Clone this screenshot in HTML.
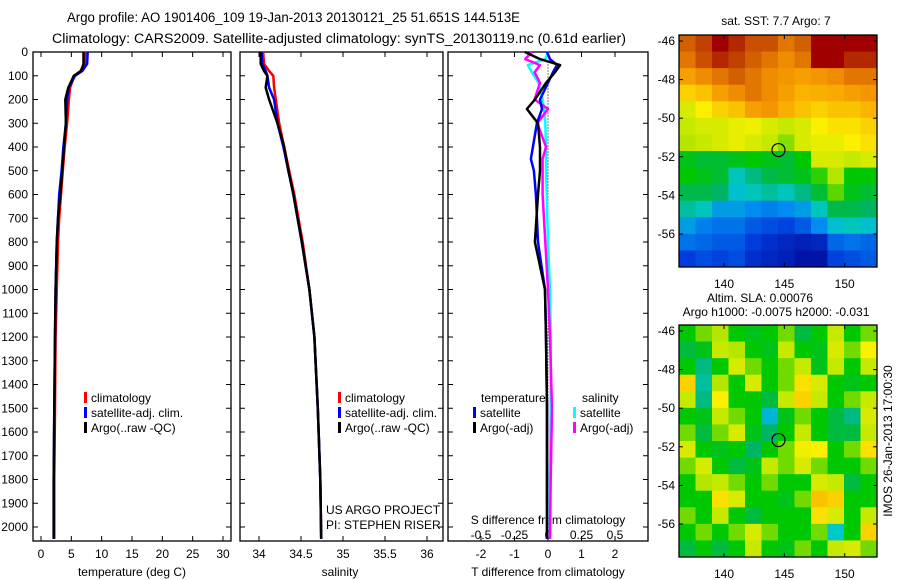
<!DOCTYPE html>
<html><head><meta charset="utf-8">
<style>
html,body{margin:0;padding:0;background:#fff;}
svg{display:block;font-family:"Liberation Sans",sans-serif;font-size:12px;}
</style></head>
<body>
<svg id="c" width="900" height="580" viewBox="0 0 900 580" xmlns="http://www.w3.org/2000/svg">
<text x="67" y="22" textLength="453" lengthAdjust="spacingAndGlyphs" style="font-size:13.5px">Argo profile: AO 1901406_109 19-Jan-2013 20130121_25 51.651S 144.513E</text>
<text x="52" y="43" textLength="574" lengthAdjust="spacingAndGlyphs" style="font-size:13.5px">Climatology: CARS2009. Satellite-adjusted climatology: synTS_20130119.nc (0.61d earlier)</text>
</svg>
<script>
// ---------- data ----------
const depths = [0,50,80,100,150,200,300,400,500,600,700,800,1000,1200,1500,1800,2050];
const tempClim = [7.3,7.2,6.5,5.5,4.8,4.6,4.3,3.9,3.6,3.3,3.0,2.8,2.6,2.4,2.3,2.2,2.2];
const tempSat  = [7.7,7.6,6.8,5.6,4.6,4.3,4.1,3.7,3.4,3.0,2.8,2.6,2.4,2.3,2.2,2.1,2.1];
const tempArgo = [7.0,7.0,6.6,5.4,4.5,4.0,4.1,3.8,3.5,3.2,2.8,2.6,2.4,2.3,2.2,2.1,2.1];
const salClim = [34.05,34.06,34.12,34.17,34.18,34.2,34.24,34.3,34.36,34.42,34.47,34.52,34.6,34.66,34.7,34.73,34.74];
const salSat  = [34.03,34.04,34.08,34.1,34.12,34.18,34.22,34.29,34.35,34.41,34.46,34.51,34.6,34.66,34.7,34.73,34.74];
const salArgo = [34.02,34.02,34.06,34.1,34.08,34.12,34.22,34.3,34.35,34.41,34.46,34.51,34.6,34.66,34.7,34.73,34.74];
const diffDepths = [0,30,55,85,130,200,240,300,400,450,500,600,800,1000,1200,1500,1800,2050];
const dTsat  = [-0.03,0.06,0.27,0.15,0,-0.24,-0.18,-0.33,-0.45,-0.51,-0.42,-0.36,-0.3,-0.09,-0.06,-0.03,-0.03,-0.03];
const dTargo = [-0.69,-0.24,0.36,0.21,-0.06,-0.39,-0.63,-0.3,-0.24,-0.24,-0.24,-0.3,-0.39,-0.09,-0.06,-0.03,-0.03,-0.03];
const dSsat  = [0,-0.02,-0.15,-0.12,-0.07,-0.04,-0.03,-0.02,-0.015,-0.015,-0.015,-0.01,0,0.015,0.02,0.02,0.015,0.015];
const dSargo = [-0.12,-0.17,-0.06,-0.1,-0.06,-0.1,0,-0.08,-0.015,-0.04,-0.04,-0.04,-0.02,0,0.015,0.03,0.02,0.015];
const depthTicks = [0,100,200,300,400,500,600,700,800,900,1000,1100,1200,1300,1400,1500,1600,1700,1800,1900,2000];
const tempTicks = [0,5,10,15,20,25,30];
const salTicks = [34,34.5,35,35.5,36];
const tdiffTicks = [-2,-1,0,1,2];
const sdiffTicks = [-0.5,-0.25,0,0.25,0.5];
const sdiffTickLabels = ["-0.5","-0.25","0","0.25","0.5"];
const lonTicks = [140,145,150];
const latTicks = [-46,-48,-50,-52,-54,-56];
const floatLon = 144.513, floatLat = -51.651;
const sstGrid = [
[0.88,0.92,1.0,0.95,0.9,0.9,0.85,0.88,1.0,1.0,1.0,1.0],
[0.85,0.9,0.95,0.92,0.88,0.85,0.82,0.85,1.0,1.0,0.95,0.95],
[0.78,0.82,0.85,0.88,0.85,0.82,0.8,0.78,0.8,0.82,0.85,0.85],
[0.7,0.72,0.78,0.82,0.85,0.82,0.78,0.74,0.75,0.76,0.78,0.8],
[0.62,0.66,0.7,0.72,0.78,0.8,0.75,0.72,0.7,0.72,0.72,0.74],
[0.6,0.62,0.62,0.64,0.65,0.62,0.6,0.62,0.66,0.68,0.68,0.7],
[0.58,0.6,0.62,0.64,0.62,0.6,0.56,0.62,0.64,0.64,0.66,0.68],
[0.48,0.46,0.46,0.48,0.5,0.48,0.46,0.5,0.62,0.62,0.6,0.62],
[0.5,0.48,0.46,0.36,0.4,0.44,0.46,0.48,0.52,0.58,0.5,0.5],
[0.44,0.44,0.42,0.34,0.36,0.38,0.36,0.4,0.46,0.54,0.48,0.46],
[0.38,0.36,0.3,0.3,0.28,0.26,0.28,0.3,0.36,0.44,0.44,0.42],
[0.3,0.26,0.24,0.24,0.2,0.18,0.16,0.2,0.28,0.34,0.36,0.34],
[0.24,0.22,0.2,0.2,0.15,0.12,0.1,0.08,0.1,0.22,0.24,0.22],
[0.15,0.18,0.16,0.18,0.12,0.1,0.08,0.05,0.05,0.16,0.18,0.2]];
const slaGrid = [
[0.5,0.55,0.58,0.5,0.48,0.5,0.55,0.45,0.5,0.6,0.5,0.55],
[0.45,0.48,0.6,0.58,0.5,0.48,0.6,0.5,0.48,0.62,0.55,0.66],
[0.5,0.4,0.5,0.62,0.55,0.5,0.55,0.6,0.48,0.6,0.5,0.6],
[0.7,0.38,0.58,0.5,0.62,0.5,0.55,0.68,0.62,0.5,0.48,0.5],
[0.6,0.4,0.66,0.5,0.5,0.45,0.6,0.7,0.6,0.5,0.55,0.6],
[0.5,0.48,0.6,0.55,0.5,0.33,0.48,0.55,0.5,0.45,0.4,0.62],
[0.55,0.45,0.55,0.62,0.48,0.42,0.5,0.6,0.5,0.45,0.45,0.6],
[0.62,0.5,0.48,0.5,0.42,0.5,0.55,0.65,0.66,0.5,0.55,0.68],
[0.55,0.62,0.5,0.45,0.48,0.6,0.55,0.62,0.55,0.5,0.5,0.55],
[0.5,0.58,0.6,0.55,0.5,0.55,0.5,0.5,0.62,0.6,0.45,0.5],
[0.5,0.5,0.68,0.62,0.5,0.5,0.48,0.55,0.72,0.7,0.5,0.5],
[0.55,0.5,0.6,0.5,0.45,0.5,0.5,0.5,0.68,0.62,0.5,0.6],
[0.5,0.55,0.5,0.55,0.62,0.55,0.5,0.5,0.55,0.35,0.5,0.7],
[0.45,0.5,0.45,0.5,0.6,0.5,0.48,0.55,0.5,0.6,0.62,0.55]];

// ---------- helpers ----------
const svg = document.getElementById('c');
const NS = 'http://www.w3.org/2000/svg';
function mk(tag, attrs, parent){const e=document.createElementNS(NS,tag);for(const k in attrs)e.setAttribute(k,attrs[k]);(parent||svg).appendChild(e);return e;}
function txt(x,y,s,anchor,parent){const t=mk('text',{x:x,y:y,'text-anchor':anchor||'start'},parent);t.textContent=s;return t;}
const PT=52, PB=541;
function yD(d){return PT + d*0.2375;}
function lin(d0,d1,r0,r1){return v=>r0+(v-d0)*(r1-r0)/(d1-d0);}
const xT = lin(0,30,41,223);
const xS = lin(34,36,259,427);
const xTd = lin(0,1,548,581.5);
const xSd = lin(0,1,548,682);

function frame(x0,x1,name){
  const r=mk('rect',{x:x0,y:PT,width:x1-x0,height:PB-PT,fill:'#fff',stroke:'#000','stroke-width':1.3});
  
  
  depthTicks.forEach(d=>{
    const y=yD(d);
    mk('line',{x1:x0,y1:y,x2:x0+5,y2:y,stroke:'#000'});
    mk('line',{x1:x1-5,y1:y,x2:x1,y2:y,stroke:'#000'});
  });
}
function series(xs,ds,fx,color,name,w){
  const pts=xs.map((v,i)=>fx(v).toFixed(1)+','+yD(ds[i]).toFixed(1)).join(' ');
  const p=mk('polyline',{points:pts,fill:'none',stroke:color,'stroke-width':w||2.5,'stroke-linejoin':'round'});
  
  
}
function legend(x,y,color,label,name){
  const g=mk('g',{});
  
  
  mk('rect',{x:x,y:y-10,width:3,height:11,fill:color},g);
  txt(x+7,y,label,'start',g);
}

// ---------- panel 1: temperature ----------
frame(33,231,'temperature-panel');
depthTicks.forEach(d=>{txt(28,yD(d)+4,String(d),'end');});
tempTicks.forEach(v=>{const x=xT(v);mk('line',{x1:x,y1:PB,x2:x,y2:PB-5,stroke:'#000'});mk('line',{x1:x,y1:PT,x2:x,y2:PT+5,stroke:'#000'});txt(x,558,String(v),'middle');});
txt(132,576,'temperature (deg C)','middle');
series(tempClim,depths,xT,'#f00','temp-climatology-line');
series(tempSat,depths,xT,'#00f','temp-satellite-line');
series(tempArgo,depths,xT,'#000','temp-argo-line');
legend(84,402,'#f00','climatology','legend-climatology');
legend(84,417,'#00f','satellite-adj. clim.','legend-satellite');
legend(84,432,'#000','Argo(..raw -QC)','legend-argo');

// ---------- panel 2: salinity ----------
frame(240,443,'salinity-panel');
salTicks.forEach(v=>{const x=xS(v);mk('line',{x1:x,y1:PB,x2:x,y2:PB-5,stroke:'#000'});mk('line',{x1:x,y1:PT,x2:x,y2:PT+5,stroke:'#000'});txt(x,558,String(v),'middle');});
txt(340,576,'salinity','middle');
series(salClim,depths,xS,'#f00','sal-climatology-line');
series(salSat,depths,xS,'#00f','sal-satellite-line');
series(salArgo,depths,xS,'#000','sal-argo-line');
legend(338,402,'#f00','climatology','legend-sal-climatology');
legend(338,417,'#00f','satellite-adj. clim.','legend-sal-satellite');
legend(338,432,'#000','Argo(..raw -QC)','legend-sal-argo');
txt(326,514,'US ARGO PROJECT');
txt(326,529,'PI: STEPHEN RISER');

// ---------- panel 3: differences ----------
frame(448,648,'difference-panel');
mk('line',{x1:xTd(0),y1:yD(40),x2:xTd(0),y2:PB,stroke:'#000','stroke-dasharray':'1,2'});
tdiffTicks.forEach(v=>{const x=xTd(v);mk('line',{x1:x,y1:PB,x2:x,y2:PB-5,stroke:'#000'});mk('line',{x1:x,y1:PT,x2:x,y2:PT+5,stroke:'#000'});txt(x,558,String(v),'middle');});
sdiffTicks.forEach((v,i)=>{txt(xSd(v),539,sdiffTickLabels[i],'middle');});
txt(548,524,'S difference from climatology','middle');
txt(548,576,'T difference from climatology','middle');
series(dSsat,diffDepths,xSd,'#0ff','sdiff-satellite-line');
series(dSargo,diffDepths,xSd,'#f0f','sdiff-argo-line');
series(dTsat,diffDepths,xTd,'#00f','tdiff-satellite-line');
series(dTargo,diffDepths,xTd,'#000','tdiff-argo-line');
txt(481,402,'temperature');
txt(582,402,'salinity');
legend(473,417,'#00f','satellite','legend-tdiff-satellite');
legend(473,432,'#000','Argo(-adj)','legend-tdiff-argo');
legend(573,417,'#0ff','satellite','legend-sdiff-satellite');
legend(573,432,'#f0f','Argo(-adj)','legend-sdiff-argo');

// ---------- maps ----------
const cmapStops=[[0,[0,0,140]],[0.15,[0,60,220]],[0.28,[0,140,240]],[0.35,[0,200,200]],[0.42,[0,180,100]],[0.5,[0,200,0]],[0.58,[180,230,0]],[0.66,[250,240,0]],[0.74,[250,180,0]],[0.82,[240,140,0]],[0.9,[200,80,0]],[1,[160,0,0]]];
function cmap(v){for(let i=1;i<cmapStops.length;i++){if(v<=cmapStops[i][0]){const a=cmapStops[i-1],b=cmapStops[i];const t=(v-a[0])/(b[0]-a[0]);return 'rgb('+a[1].map((c,k)=>Math.round(c+(b[1][k]-c)*t)).join(',')+')';}}return 'rgb(160,0,0)';}
const MX0=679,MX1=877;
const xLon=lin(140,150,724,844.7);
function drawMap(grid,top,name){
  const bot=top+232;
  const yLat=lin(-46,-56,top+6,top+199);
  const g=mk('g',{});
  
  
  const rows=grid.length, cols=grid[0].length;
  const cw=(MX1-MX0)/cols, ch=(bot-top)/rows;
  grid.forEach((row,r)=>row.forEach((v,c)=>{
    const cell=mk('rect',{x:(MX0+c*cw).toFixed(2),y:(top+r*ch).toFixed(2),width:(cw+0.5).toFixed(2),height:(ch+0.5).toFixed(2),fill:cmap(v)},g);
    
    
  }));
  mk('rect',{x:MX0,y:top,width:MX1-MX0,height:bot-top,fill:'none',stroke:'#000','stroke-width':1.3});
  latTicks.forEach(v=>{const y=yLat(v);mk('line',{x1:MX0,y1:y,x2:MX0+4,y2:y,stroke:'#000'});mk('line',{x1:MX1-4,y1:y,x2:MX1,y2:y,stroke:'#000'});txt(675,y+4,String(v),'end');});
  lonTicks.forEach(v=>{const x=xLon(v);mk('line',{x1:x,y1:bot,x2:x,y2:bot-4,stroke:'#000'});mk('line',{x1:x,y1:top,x2:x,y2:top+4,stroke:'#000'});txt(x,bot+21,String(v),'middle');});
  const m=mk('circle',{cx:xLon(floatLon),cy:yLat(floatLat),r:6.5,fill:'none',stroke:'#000','stroke-width':1.2});
  
  
}
drawMap(sstGrid,35,'sst-map');
txt(776,25,'sat. SST: 7.7 Argo: 7','middle');
drawMap(slaGrid,325,'sla-map');
txt(760,302,'Altim. SLA: 0.00076','middle');
txt(776,316,'Argo h1000: -0.0075 h2000: -0.031','middle');
const rt=txt(0,0,'IMOS 26-Jan-2013 17:00:30','middle');
rt.setAttribute('transform','translate(892,441) rotate(-90)');


</script>
</body></html>
